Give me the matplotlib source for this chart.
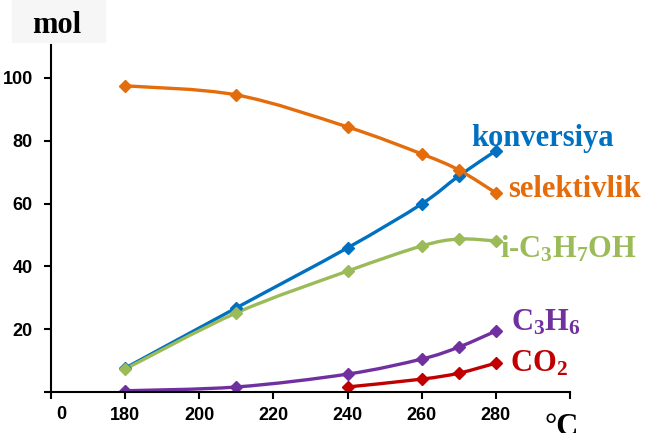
import numpy as np
import matplotlib
matplotlib.use("Agg")
import matplotlib.pyplot as plt
from matplotlib.path import Path
from matplotlib.patches import PathPatch, Rectangle

plt.rcParams['mathtext.fontset'] = 'custom'
plt.rcParams['mathtext.rm'] = 'Liberation Serif:bold'
plt.rcParams['mathtext.it'] = 'Liberation Serif:bold'
plt.rcParams['mathtext.bf'] = 'Liberation Serif:bold'

# data (temperature in C, mol)
temp = [180, 210, 240, 260, 270, 280]
konversiya = [7.6, 26.8, 45.9, 59.9, 68.8, 76.8]
selektivlik = [97.5, 94.6, 84.4, 75.8, 70.7, 63.4]
ipa = [7.3, 25.2, 38.5, 46.5, 48.7, 48.1]
propene = [0.4, 1.6, 5.7, 10.5, 14.3, 19.4]
co2_temp = [240, 260, 270, 280]
co2 = [1.6, 4.1, 6.0, 9.2]

x_ticks = [160, 180, 200, 220, 240, 260, 280, 300]
x_labels = ['', '180', '200', '220', '240', '260', '280', '']
y_ticks = [0, 20, 40, 60, 80, 100]
y_labels = ['', '20', '40', '60', '80', '100']

series = [
    (temp, konversiya, '#0070C0', 'konversiya', (273.3, 78.3)),
    (temp, selektivlik, '#E46C0A', 'selektivlik', (283.3, 62.1)),
    (temp, ipa, '#9BBB59', r'i-C$_3$H$_7$OH', (281.1, 42.7)),
    (temp, propene, '#7030A0', r'C$_3$H$_6$', (284.1, 19.7)),
    (co2_temp, co2, '#C00000', r'CO$_2$', (283.8, 6.4)),
]


def smooth_path(xs, ys):
    # Excel-style smoothed line: Catmull-Rom segments as cubic Bezier
    p = np.column_stack([xs, ys]).astype(float)
    n = len(p)
    verts = [p[0]]
    codes = [Path.MOVETO]
    for i in range(n - 1):
        p0 = p[i - 1] if i > 0 else p[i]
        p3 = p[i + 2] if i + 2 < n else p[i + 1]
        c1 = p[i] + (p[i + 1] - p0) / 6
        c2 = p[i + 1] - (p3 - p[i]) / 6
        verts += [c1, c2, p[i + 1]]
        codes += [Path.CURVE4] * 3
    return Path(verts, codes)


fig = plt.figure(figsize=(6.49, 4.33), dpi=100)
fig.patches.append(Rectangle((12 / 649, 1 - 42 / 433), 93 / 649, 42 / 433,
                             transform=fig.transFigure, color='#f6f6f6', zorder=0))
ax = fig.add_axes([51 / 649, 41 / 433, 519 / 649, 347 / 433])

for xs, ys, color, label, (lx, ly) in series:
    ax.add_patch(PathPatch(smooth_path(xs, ys), facecolor='none', edgecolor=color,
                           lw=2.4, capstyle='round', joinstyle='round'))
    ax.plot(xs, ys, ls='none', marker='D', ms=6.3, color=color)
    ax.text(lx, ly, label, color=color, fontsize=22, fontweight='bold',
            family='Liberation Serif', ha='left', va='baseline')

ax.set_xlim(160, 300)
ax.set_ylim(0, 110.5)
ax.set_xticks(x_ticks)
ax.set_xticklabels(x_labels)
ax.set_yticks(y_ticks)
ax.set_yticklabels(y_labels)
for lab in ax.get_xticklabels() + ax.get_yticklabels():
    lab.set_family('Liberation Sans')
    lab.set_fontweight('bold')
    lab.set_fontsize(13)
# the "0" label sits a bit right of the axis in the original
ax.annotate('0', xy=(160, 0), xycoords=('data', 'axes fraction'), xytext=(10, -14),
            textcoords='offset pixels', ha='center', va='top',
            family='Liberation Sans', fontweight='bold', fontsize=13)

ax.tick_params(axis='x', direction='out', length=5, width=1.5, pad=6)
ax.tick_params(axis='y', direction='out', length=5, width=1.5, pad=8)
for s in ['top', 'right']:
    ax.spines[s].set_visible(False)
for s in ['left', 'bottom']:
    ax.spines[s].set_linewidth(1.5)
ax.patch.set_alpha(0)

fig.text(32 / 649, 1 - 33 / 433, 'mol', fontsize=22, fontweight='bold',
         family='Liberation Serif', ha='left', va='baseline')
fig.text(545 / 649, -2 / 433, '°C', fontsize=22, fontweight='bold',
         family='Liberation Serif', ha='left', va='baseline')

fig.savefig('out.png', dpi=100)
